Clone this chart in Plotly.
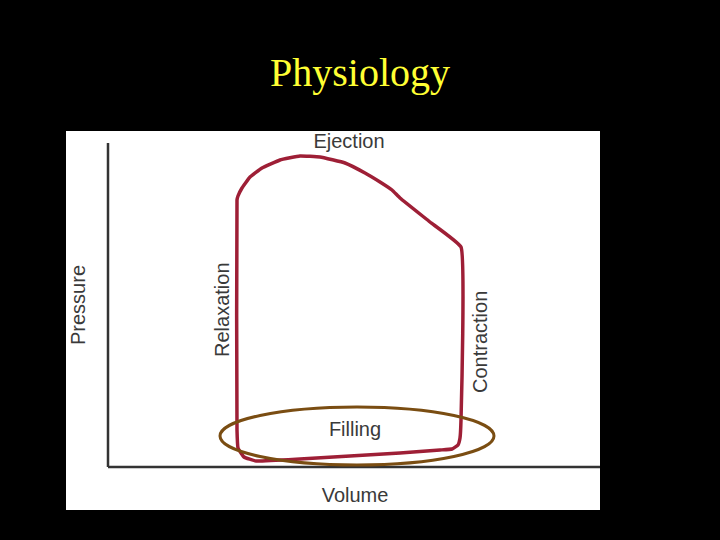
import plotly.graph_objects as go

# pressure-volume loop, traced in picture pixel coordinates (x right, y down)
loop_x = [237, 237, 238, 244, 256, 300, 350, 400, 440, 452, 458, 460, 461, 461,
          430, 400, 392, 380, 365, 345, 320, 300, 280, 262, 250, 242, 238, 237]
loop_y = [200, 430, 448, 457, 461, 459, 456, 453, 450, 449, 445, 438, 420, 247,
          222, 198, 190, 182, 173, 163, 157, 156, 160, 168, 177, 188, 196, 200]

labels = ["Ejection", "Filling", "Volume"]
label_x = [349, 355, 355]
label_y = [143, 431, 497]

rot_labels = ["Pressure", "Relaxation", "Contraction"]
rot_x = [78, 222, 480]
rot_y = [305, 310, 342]

fig = go.Figure()

fig.add_trace(go.Scatter(x=loop_x, y=loop_y, mode="lines",
                         line=dict(color="#9e1f36", width=3.5, shape="spline", smoothing=0.3),
                         hoverinfo="skip", showlegend=False))

fig.add_trace(go.Scatter(x=label_x, y=label_y, mode="text", text=labels,
                         textfont=dict(family="Liberation Sans, Arial", size=20, color="#3a3a3a"),
                         hoverinfo="skip", showlegend=False))

for t, x, y in zip(rot_labels, rot_x, rot_y):
    fig.add_annotation(x=x, y=y, text=t, textangle=-90, showarrow=False,
                       font=dict(family="Liberation Sans, Arial", size=20, color="#3a3a3a"))

fig.add_annotation(x=360, y=72, text="Physiology", showarrow=False,
                   font=dict(family="Liberation Serif, Times New Roman", size=40, color="#ffff33"))

shapes = [
    dict(type="rect", x0=66, x1=600, y0=131, y1=510, fillcolor="white", line_width=0, layer="below"),
    dict(type="line", x0=108, x1=108, y0=143, y1=467, line=dict(color="#333333", width=2.5)),
    dict(type="line", x0=108, x1=600, y0=467, y1=467, line=dict(color="#333333", width=2.5)),
    dict(type="circle", x0=220, x1=494, y0=407, y1=465, line=dict(color="#7a4d12", width=3)),
]

fig.update_layout(
    width=720, height=540,
    margin=dict(l=0, r=0, t=0, b=0),
    paper_bgcolor="black", plot_bgcolor="black",
    shapes=shapes,
    xaxis=dict(range=[0, 720], visible=False, fixedrange=True),
    yaxis=dict(range=[540, 0], visible=False, fixedrange=True),
)

fig.write_html("out.html", config={"displayModeBar": False},
               post_script="document.body.style.margin='0';document.body.style.background='black';document.body.style.overflow='hidden';")
